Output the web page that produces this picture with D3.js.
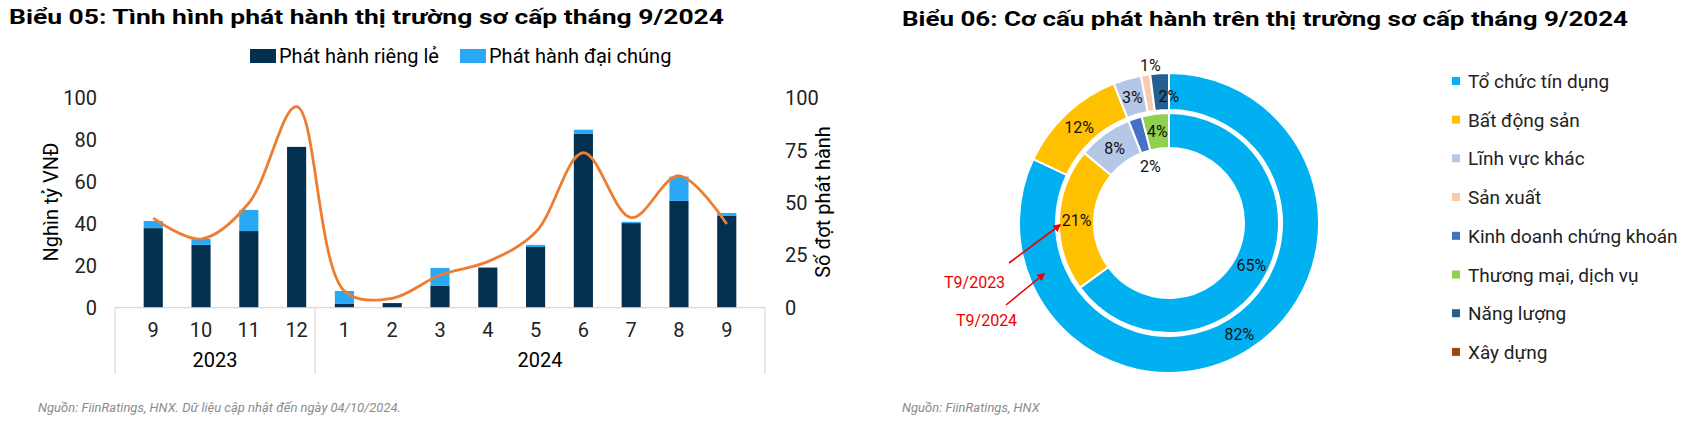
<!DOCTYPE html>
<html><head><meta charset="utf-8">
<script src="https://cdn.jsdelivr.net/npm/d3@7"></script>
<style>body{margin:0;background:#fff;font-family:"Liberation Sans Narrow","Roboto","DejaVu Sans",sans-serif}</style>
</head><body><svg id="c" width="1708" height="424"></svg>
<script>
// data
const months = ["9","10","11","12","1","2","3","4","5","6","7","8","9"];
const years = ["2023","2024"];
const privateIssue = [38, 30, 36.6, 76.8, 1.8, 2.2, 10.4, 19.1, 29, 83, 40.4, 51, 44];
const publicIssue = [3.4, 2.8, 10.1, 0, 6.2, 0, 8.6, 0.3, 1, 2, 0.6, 11.6, 1.2];
const issueCount = [42.8, 32.8, 50, 96, 8, 4.5, 15.6, 22, 36, 74, 43, 63, 40];

const sectors = ["Tổ chức tín dụng","Bất động sản","Lĩnh vực khác","Sản xuất","Kinh doanh chứng khoán","Thương mại, dịch vụ","Năng lượng","Xây dựng"];
const sectorColors = ["#00b0f0","#ffc000","#b4c7e7","#f8cbad","#4472c4","#92d050","#255e91","#9e480e"];
const share2024 = [82, 12, 3, 1, 0, 0, 2, 0];
const share2023 = [65, 21, 8, 0, 2, 4, 0, 0];

const svg = d3.select("#c");
const font = '"Liberation Sans Narrow","Roboto",sans-serif';

// 1. Left chart
svg.append("text").attr("x", 9).attr("y", 24).attr("font-family", "Roboto,sans-serif")
  .attr("font-weight", "bold").attr("font-size", "21px").attr("textLength", 715).attr("lengthAdjust", "spacingAndGlyphs")
  .text("Biểu 05: Tình hình phát hành thị trường sơ cấp tháng 9/2024");

const x = d3.scaleBand().domain(d3.range(months.length)).range([115, 765]).padding(0.6);
const y = d3.scaleLinear().domain([0, 100]).range([307.7, 98.3]);

const g = svg.append("g").attr("font-family", font);
months.forEach((m, i) => {
  g.append("rect").attr("x", x(i)).attr("width", x.bandwidth())
    .attr("y", y(privateIssue[i])).attr("height", y(0) - y(privateIssue[i])).attr("fill", "#03304f");
  g.append("rect").attr("x", x(i)).attr("width", x.bandwidth())
    .attr("y", y(privateIssue[i] + publicIssue[i])).attr("height", y(0) - y(publicIssue[i])).attr("fill", "#29a8f5");
  g.append("text").attr("x", x(i) + x.bandwidth() / 2).attr("y", 337).attr("text-anchor", "middle")
    .attr("font-size", "20px").attr("fill", "#222").text(m);
});
const line = d3.line().x((d, i) => x(i) + x.bandwidth() / 2).y(d => y(d)).curve(d3.curveCatmullRom);
g.append("path").attr("d", line(issueCount)).attr("fill", "none").attr("stroke", "#ed7d31").attr("stroke-width", 2.8);

// axis frame
g.append("line").attr("x1", 115).attr("x2", 765).attr("y1", 307.7).attr("y2", 307.7).attr("stroke", "#d0d0d0");
[115, 315, 765].forEach(xx => {
  g.append("line").attr("x1", xx).attr("x2", xx).attr("y1", 307.7).attr("y2", 374).attr("stroke", "#d0d0d0");
});
g.append("text").attr("x", 215).attr("y", 367).attr("text-anchor", "middle").attr("font-size", "20px").text(years[0]);
g.append("text").attr("x", 540).attr("y", 367).attr("text-anchor", "middle").attr("font-size", "20px").text(years[1]);

g.append("g").attr("transform", "translate(100,0)")
  .call(d3.axisLeft(y).tickValues([0, 20, 40, 60, 80, 100]).tickSize(0))
  .call(a => a.select(".domain").remove())
  .selectAll("text").attr("font-size", "20px").attr("font-family", font).attr("fill", "#222");
g.append("g").attr("transform", "translate(782,0)")
  .call(d3.axisRight(y).tickValues([0, 25, 50, 75, 100]).tickSize(0))
  .call(a => a.select(".domain").remove())
  .selectAll("text").attr("font-size", "20px").attr("font-family", font).attr("fill", "#222");

g.append("text").attr("transform", "translate(58,202) rotate(-90)").attr("text-anchor", "middle")
  .attr("font-size", "20px").text("Nghìn tỷ VNĐ");
g.append("text").attr("transform", "translate(830,202) rotate(-90)").attr("text-anchor", "middle")
  .attr("font-size", "20px").text("Số đợt phát hành");

// legend
g.append("rect").attr("x", 250).attr("y", 49).attr("width", 26).attr("height", 14).attr("fill", "#03304f");
g.append("text").attr("x", 279).attr("y", 63).attr("font-size", "20px").text("Phát hành riêng lẻ");
g.append("rect").attr("x", 460).attr("y", 49).attr("width", 26).attr("height", 14).attr("fill", "#29a8f5");
g.append("text").attr("x", 489).attr("y", 63).attr("font-size", "20px").text("Phát hành đại chúng");

svg.append("text").attr("x", 38).attr("y", 412).attr("font-family", "Roboto,sans-serif").attr("font-style", "italic")
  .attr("font-size", "13px").attr("fill", "#8c8c8c").text("Nguồn: FiinRatings, HNX. Dữ liệu cập nhật đến ngày 04/10/2024.");

// 2. Right chart
svg.append("text").attr("x", 902).attr("y", 26).attr("font-family", "Roboto,sans-serif")
  .attr("font-weight", "bold").attr("font-size", "21px").attr("textLength", 726).attr("lengthAdjust", "spacingAndGlyphs")
  .text("Biểu 06: Cơ cấu phát hành trên thị trường sơ cấp tháng 9/2024");
svg.append("text").attr("x", 902).attr("y", 412).attr("font-family", "Roboto,sans-serif").attr("font-style", "italic")
  .attr("font-size", "13px").attr("fill", "#8c8c8c").text("Nguồn: FiinRatings, HNX");

const cx = 1169, cy = 223;
const pie = d3.pie().sort(null).value(d => d);
const dg = svg.append("g").attr("transform", `translate(${cx},${cy})`).attr("font-family", "Roboto,sans-serif");
function ring(values, r0, r1, labelShift) {
  const arc = d3.arc().innerRadius(r0).outerRadius(r1);
  const arcs = pie(values);
  dg.selectAll(null).data(arcs).join("path").attr("d", arc)
    .attr("fill", (d, i) => sectorColors[i]).attr("stroke", "#fff").attr("stroke-width", 2);
  arcs.forEach((d, i) => {
    if (!d.value) return;
    let [lx, ly] = arc.centroid(d);
    if (labelShift[i]) { lx += labelShift[i][0]; ly += labelShift[i][1]; }
    dg.append("text").attr("x", lx).attr("y", ly + 6).attr("text-anchor", "middle")
      .attr("font-size", "16px").attr("fill", "#111").text(d.value + "%");
  });
}
ring(share2024, 113, 150, { 3: [2, -28], 6: [8, 4] });
ring(share2023, 75, 110, { 4: [10, 31] });

// legend
sectors.forEach((s, i) => {
  const ly = 81 + i * 38.7;
  svg.append("rect").attr("x", 1452).attr("y", ly - 4).attr("width", 8).attr("height", 8).attr("fill", sectorColors[i]);
  svg.append("text").attr("x", 1468).attr("y", ly + 7).attr("font-family", "Roboto,sans-serif")
    .attr("font-size", "19px").attr("fill", "#222").text(s);
});

// annotations
const defs = svg.append("defs");
defs.append("marker").attr("id", "ar").attr("viewBox", "0 0 10 10").attr("refX", 8).attr("refY", 5)
  .attr("markerWidth", 5).attr("markerHeight", 5).attr("orient", "auto")
  .append("path").attr("d", "M0,0L10,5L0,10z").attr("fill", "#e00");
svg.append("line").attr("x1", 1009).attr("y1", 263).attr("x2", 1060).attr("y2", 225)
  .attr("stroke", "#e00").attr("stroke-width", 1.6).attr("marker-end", "url(#ar)");
svg.append("line").attr("x1", 1006).attr("y1", 305).attr("x2", 1044).attr("y2", 274)
  .attr("stroke", "#e00").attr("stroke-width", 1.6).attr("marker-end", "url(#ar)");
svg.append("text").attr("x", 944).attr("y", 288).attr("font-family", "Roboto,sans-serif").attr("font-size", "16px")
  .attr("fill", "#e00").text("T9/2023");
svg.append("text").attr("x", 956).attr("y", 326).attr("font-family", "Roboto,sans-serif").attr("font-size", "16px")
  .attr("fill", "#e00").text("T9/2024");
</script></body></html>
